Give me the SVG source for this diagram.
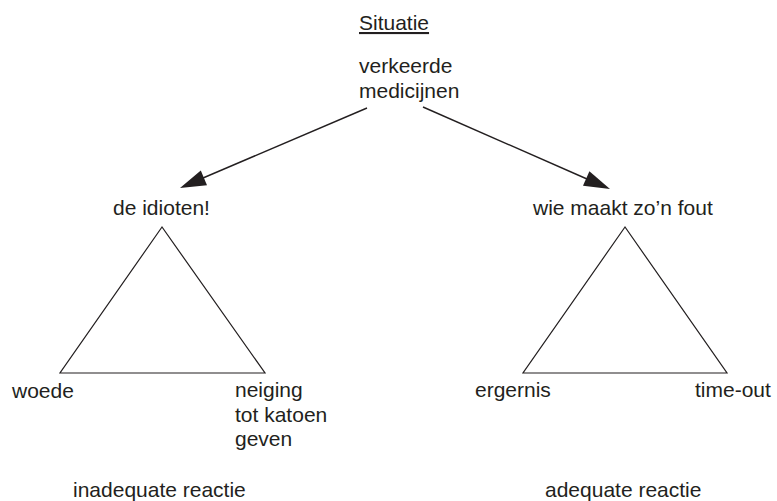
<svg xmlns="http://www.w3.org/2000/svg" width="777" height="501" viewBox="0 0 777 501">
<style>
text{font-family:"Liberation Sans",Arial,sans-serif;font-size:21px;fill:#231f20}
.tri{fill:none;stroke:#231f20;stroke-width:1.2}
.con{stroke:#231f20;stroke-width:1.4;fill:none}
.head{fill:#231f20}
</style>
<rect width="777" height="501" fill="#fff"/>
<g id="situatie">
<text x="359" y="30" text-decoration="underline">Situatie</text>
<text x="359" y="73">verkeerde</text>
<text x="359" y="98">medicijnen</text>
</g>
<g id="connectors">
<line class="con" x1="367" y1="108" x2="203" y2="178"/>
<path class="head" d="M180,188 L200.8,170.4 L207,185.2 z"/>
<line class="con" x1="423" y1="107" x2="587" y2="179"/>
<path class="head" d="M610,189 L583,185.8 L589.4,171.2 z"/>
</g>
<g id="left">
<text x="113" y="215">de idioten!</text>
<path class="tri" d="M162,227 L60,373 L265,373 Z"/>
<text x="12" y="398">woede</text>
<text x="235" y="397">neiging</text>
<text x="235" y="422">tot katoen</text>
<text x="235" y="446">geven</text>
<text x="73" y="497">inadequate reactie</text>
</g>
<g id="right">
<text x="533" y="215">wie maakt zo’n fout</text>
<path class="tri" d="M625,227 L523,373 L727,373 Z"/>
<text x="475" y="397">ergernis</text>
<text x="695" y="397">time-out</text>
<text x="545" y="497">adequate reactie</text>
</g>
</svg>
